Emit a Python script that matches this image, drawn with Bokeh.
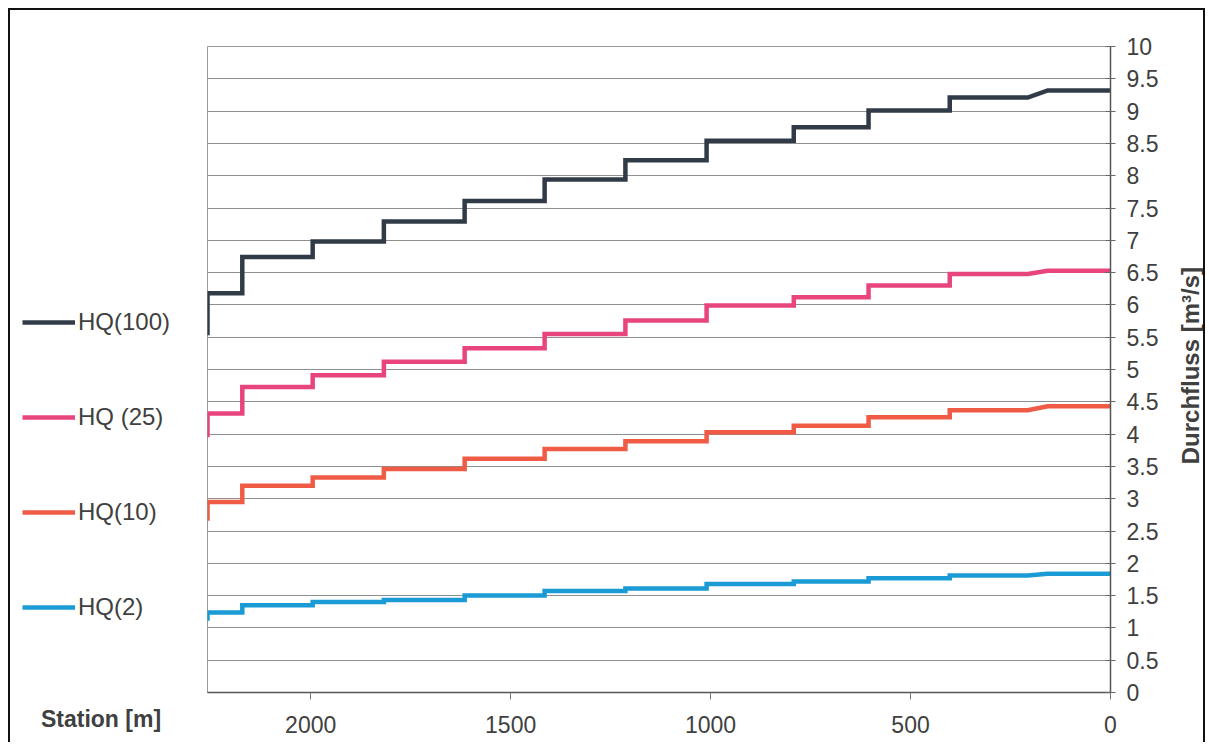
import math
from bokeh.plotting import figure
from bokeh.layouts import row
from bokeh.models import (Range1d, FixedTicker, CustomJSTickFormatter, Legend,
                          LegendItem, Label)
from bokeh.embed import file_html
from bokeh.resources import INLINE

# ---- data (station in m, discharge in m3/s) ----
station_start = 2258
step_stations = [2171, 1995, 1817, 1615, 1415, 1213, 1010, 792, 605, 402]
ramp_start, ramp_end, station_end = 207, 157, 0

series_names = ["HQ(100)", "HQ (25)", "HQ(10)", "HQ(2)"]
hq100_start, hq100_levels, hq100_end = 5.53, [6.18, 6.74, 6.98, 7.29, 7.61, 7.94, 8.24, 8.54, 8.75, 9.01, 9.21], 9.32
hq25_start, hq25_levels, hq25_end = 3.95, [4.32, 4.73, 4.91, 5.12, 5.33, 5.55, 5.76, 5.99, 6.12, 6.30, 6.48], 6.53
hq10_start, hq10_levels, hq10_end = 2.66, [2.95, 3.20, 3.33, 3.46, 3.62, 3.77, 3.89, 4.03, 4.13, 4.26, 4.37], 4.43
hq2_start, hq2_levels, hq2_end = 1.11, [1.24, 1.35, 1.40, 1.43, 1.50, 1.57, 1.61, 1.68, 1.72, 1.77, 1.81], 1.84

x_ticks = [0, 500, 1000, 1500, 2000]
y_ticks = [i * 0.5 for i in range(21)]
y_title = "Durchfluss [m³/s]"
x_title = "Station [m]"

colors = ["#313b48", "#e8457f", "#ef5b45", "#1b9bd5"]
TXT = "#404040"
FONT = "Liberation Sans"


def step_path(start, levels, end):
    xs = [station_start, station_start]
    ys = [start, levels[0]]
    for b, lo, hi in zip(step_stations, levels[:-1], levels[1:]):
        xs += [b, b]
        ys += [lo, hi]
    xs += [ramp_start, ramp_end, station_end]
    ys += [levels[-1], end, end]
    return xs, ys


H = 732
TOTAL_W = 1193
LEFT_W = 197
FRAME_W = 903
RIGHT_B = 56
MAIN_W = FRAME_W + RIGHT_B
TITLE_W = TOTAL_W - LEFT_W - MAIN_W
TOP_B, BOT_B = 36, 50

# ---- main chart ----
p = figure(width=MAIN_W, height=H, x_range=Range1d(station_start, 0), y_range=Range1d(0, 10),
           output_backend="svg", toolbar_location=None, y_axis_location="right",
           min_border_left=0, min_border_right=RIGHT_B, min_border_top=TOP_B, min_border_bottom=BOT_B,
           background_fill_color="white", border_fill_color="white",
           outline_line_color="#9a9a9a", outline_line_width=1)

p.xgrid.visible = False
p.ygrid.ticker = FixedTicker(ticks=y_ticks)
p.ygrid.grid_line_color = "#8f8f8f"
p.ygrid.grid_line_width = 1

fmt = CustomJSTickFormatter(code="return tick.toString();")

xa = p.xaxis[0]
xa.ticker = FixedTicker(ticks=x_ticks)
xa.formatter = fmt
xa.minor_tick_line_color = None
xa.major_tick_in = 0
xa.major_tick_out = 7
xa.axis_line_color = "#555555"
xa.axis_line_width = 1.5
xa.major_tick_line_color = "#777777"
xa.major_label_standoff = 16
xa.major_label_text_font = FONT
xa.major_label_text_font_size = "23px"
xa.major_label_text_color = TXT

ya = p.yaxis[0]
ya.ticker = FixedTicker(ticks=y_ticks)
ya.formatter = fmt
ya.minor_tick_line_color = None
ya.major_tick_in = 5
ya.major_tick_out = 5
ya.axis_line_color = "#555555"
ya.axis_line_width = 1.5
ya.major_tick_line_color = "#666666"
ya.major_label_standoff = 11
ya.major_label_text_font = FONT
ya.major_label_text_font_size = "23px"
ya.major_label_text_color = TXT

all_series = [
    (hq100_start, hq100_levels, hq100_end),
    (hq25_start, hq25_levels, hq25_end),
    (hq10_start, hq10_levels, hq10_end),
    (hq2_start, hq2_levels, hq2_end),
]
for (s, lv, e), c in zip(all_series, colors):
    xs, ys = step_path(s, lv, e)
    p.line(xs, ys, line_color=c, line_width=4.5, line_join="miter")

# ---- right pane: vertical axis title ----
rf = figure(width=TITLE_W, height=H, x_range=Range1d(0, TITLE_W), y_range=Range1d(0, 10),
            output_backend="svg", toolbar_location=None,
            x_axis_location=None, y_axis_location=None,
            min_border_left=0, min_border_right=0, min_border_top=TOP_B, min_border_bottom=BOT_B,
            background_fill_color="white", border_fill_color="white", outline_line_color=None)
rf.grid.visible = False
rf.add_layout(Label(x=TITLE_W - 13, y=5.06, text=y_title, angle=math.pi / 2,
                    text_align="center", text_baseline="middle", text_font=FONT,
                    text_font_size="24px", text_font_style="bold", text_color=TXT))

# ---- left pane: legend and station caption ----
lf = figure(width=LEFT_W, height=H, x_range=Range1d(0, 1), y_range=Range1d(0, 1),
            output_backend="svg", toolbar_location=None,
            x_axis_location="below", y_axis_location=None,
            min_border_left=0, min_border_right=16, min_border_top=TOP_B, min_border_bottom=BOT_B,
            background_fill_color="white", border_fill_color="white", outline_line_color=None)
lf.grid.visible = False
lax = lf.xaxis[0]
lax.ticker = FixedTicker(ticks=[])
lax.axis_line_color = None
lax.major_tick_line_color = None
lax.minor_tick_line_color = None
lax.major_tick_out = 0
lax.major_tick_in = 0
lax.major_label_standoff = 0
lax.axis_label = x_title
lax.axis_label_text_font = FONT
lax.axis_label_text_font_size = "23px"
lax.axis_label_text_font_style = "bold"
lax.axis_label_text_color = TXT
lax.axis_label_standoff = 13

nan = float("nan")
items = []
for name, c in zip(series_names, colors):
    r = lf.line([nan], [nan], line_color=c, line_width=4.5)
    items.append(LegendItem(label=name, renderers=[r]))

legend = Legend(items=items, location=(12, 71), orientation="vertical",
                glyph_width=53, glyph_height=28, label_height=28, spacing=67,
                label_standoff=3, padding=0, margin=0,
                border_line_color=None, background_fill_alpha=0,
                label_text_font=FONT, label_text_font_size="24px",
                label_text_color=TXT)
lf.add_layout(legend, "center")

layout = row(lf, p, rf, spacing=0,
             styles={"margin-left": "8px", "margin-top": "8px",
                     "border-top": "2px solid #111", "border-left": "2px solid #111",
                     "border-right": "2px solid #111"})

open("out.html", "w").write(file_html(layout, INLINE))
